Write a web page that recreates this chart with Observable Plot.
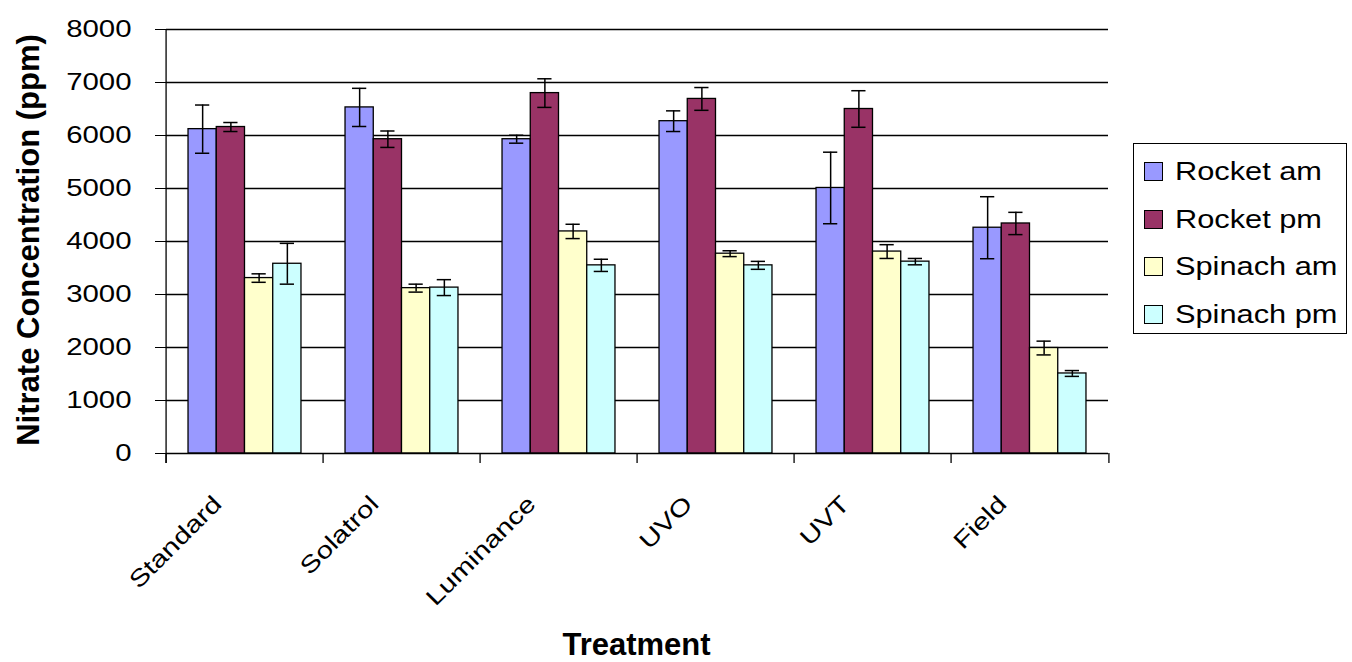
<!DOCTYPE html>
<html><head><meta charset="utf-8">
<script src="https://cdn.jsdelivr.net/npm/d3@7"></script>
<script src="https://cdn.jsdelivr.net/npm/@observablehq/plot@0.6"></script>
<style>
html,body{margin:0;padding:0;background:#fff;}
#wrap{position:relative;width:1352px;height:662px;overflow:hidden;font-family:'Liberation Sans',Arial,sans-serif;color:#000;}
.ytitle{position:absolute;left:28px;top:240px;transform:translate(-50%,-50%) rotate(-90deg);font-weight:bold;font-size:31px;white-space:nowrap;line-height:1;}
.xtitle{position:absolute;left:636.5px;top:628px;transform:translateX(-50%);font-weight:bold;font-size:31px;white-space:nowrap;line-height:1.1;}
.legend{position:absolute;left:1133px;top:143px;width:214px;height:191px;box-sizing:border-box;border:1.3px solid #000;padding-top:4px;background:#fff;}
.row{height:47.5px;display:flex;align-items:center;}
.sw{width:19px;height:19px;box-sizing:border-box;border:1.3px solid #000;margin-left:10px;margin-right:12px;flex:none;}
.lab{font-size:25px;white-space:nowrap;display:inline-block;transform:scaleX(1.23);transform-origin:left center;}
</style>
</head>
<body>
<div id="wrap">
  <div id="chart"></div>
  <div class="ytitle">Nitrate Concentration (ppm)</div>
  <div class="xtitle">Treatment</div>
  <div class="legend" id="legend"></div>
</div>
<script>
// ---- data ----
const treatments = ["Standard", "Solatrol", "Luminance", "UVO", "UVT", "Field"];
const series = ["Rocket am", "Rocket pm", "Spinach am", "Spinach pm"];
const colors = ["#9999FF", "#993366", "#FFFFCC", "#CCFFFF"];
const rocketAm = [6120, 6530, 5930, 6270, 5010, 4260];
const rocketPm = [6160, 5930, 6800, 6690, 6500, 4340];
const spinachAm = [3310, 3120, 4190, 3770, 3810, 1990];
const spinachPm = [3580, 3130, 3550, 3550, 3620, 1510];
const rocketAmErr = [455, 360, 75, 195, 675, 585];
const rocketPmErr = [85, 155, 270, 215, 345, 210];
const spinachAmErr = [80, 75, 135, 55, 130, 130];
const spinachPmErr = [385, 150, 115, 75, 60, 55];
const yTicks = [0, 1000, 2000, 3000, 4000, 5000, 6000, 7000, 8000];

// ---- table built from arrays ----
const values = [rocketAm, rocketPm, spinachAm, spinachPm];
const errors = [rocketAmErr, rocketPmErr, spinachAmErr, spinachPmErr];
const data = [];
treatments.forEach((t, i) => series.forEach((s, j) => {
  data.push({treatment: t, series: s, value: values[j][i], err: errors[j][i]});
}));

// ---- layout ----
const W = 1352, H = 662;
const mL = 163, mR = 242, mT = 29, mB = 209;
const plotH = H - mT - mB;
const step = (W - mL - mR) / treatments.length;
const lw = 1.3;

const chart = Plot.plot({
  width: W, height: H,
  marginLeft: mL, marginRight: mR, marginTop: mT, marginBottom: mB,
  style: {fontFamily: "'Liberation Sans', Arial, sans-serif", fontSize: "23.5px", color: "#000", background: "#fff"},
  fx: {domain: treatments, paddingInner: 0, paddingOuter: 0, axis: null, label: null},
  x: {domain: series, paddingInner: 0, paddingOuter: 0.78, axis: null, round: false},
  y: {domain: [0, 8000], ticks: yTicks, tickSize: 11, tickPadding: 24, tickFormat: d3.format("d"), label: null},
  color: {domain: series, range: colors},
  marks: [
    Plot.ruleY(yTicks.filter(d => d > 0), {stroke: "#000", strokeWidth: lw}),
    Plot.barY(data, {fx: "treatment", x: "series", y: "value", fill: "series", stroke: "#000", strokeWidth: lw}),
    Plot.ruleX(data, {fx: "treatment", x: "series", y1: d => d.value - d.err, y2: d => d.value + d.err, stroke: "#000", strokeWidth: 1.5}),
    Plot.tickY(data, {fx: "treatment", x: "series", y: d => d.value + d.err, insetLeft: 7, insetRight: 7, stroke: "#000", strokeWidth: 1.5}),
    Plot.tickY(data, {fx: "treatment", x: "series", y: d => d.value - d.err, insetLeft: 7, insetRight: 7, stroke: "#000", strokeWidth: 1.5}),
    Plot.ruleY([0], {stroke: "#000", strokeWidth: lw}),
    // category boundary ticks
    Plot.ruleX(treatments, {fx: d => d, x: null, dx: -step / 2, insetTop: plotH, insetBottom: -10, stroke: "#000", strokeWidth: lw}),
    Plot.ruleX(treatments.slice(-1), {fx: d => d, x: null, dx: step / 2, insetTop: plotH, insetBottom: -10, stroke: "#000", strokeWidth: lw}),
    // y axis line
    Plot.ruleX(treatments.slice(0, 1), {fx: d => d, x: null, dx: -step / 2, insetBottom: -10, stroke: "#000", strokeWidth: lw}),
    // category labels
    Plot.text(treatments, {fx: d => d, text: d => d, frameAnchor: "bottom", rotate: -45, textAnchor: "end", dx: -22, dy: 52, fontSize: 23.5, fill: "#000"})
  ]
});
document.getElementById("chart").appendChild(chart);

// widen the regular (non-bold) chart texts, as in the original rendering
chart.querySelectorAll("text").forEach(t => {
  const len = t.getComputedTextLength();
  if (len > 0) {
    t.setAttribute("textLength", (len * 1.25).toFixed(2));
    t.setAttribute("lengthAdjust", "spacingAndGlyphs");
  }
});

// ---- legend ----
const legend = document.getElementById("legend");
series.forEach((s, i) => {
  const row = document.createElement("div");
  row.className = "row";
  const sw = document.createElement("div");
  sw.className = "sw";
  sw.style.background = colors[i];
  const lab = document.createElement("span");
  lab.className = "lab";
  lab.textContent = s;
  row.appendChild(sw);
  row.appendChild(lab);
  legend.appendChild(row);
});
</script>
</body></html>
